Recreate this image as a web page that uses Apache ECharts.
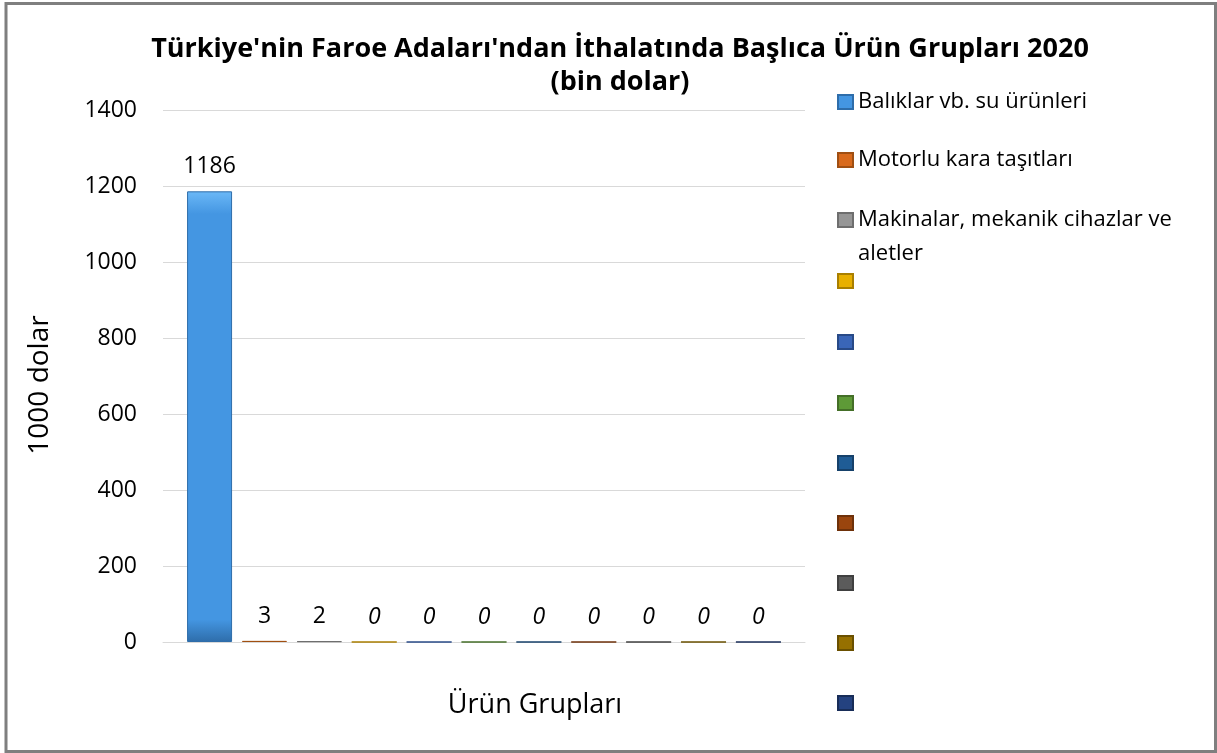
<!DOCTYPE html>
<html>
<head>
<meta charset="utf-8">
<script src="https://cdn.jsdelivr.net/npm/echarts@6/dist/echarts.min.js"></script>
<style>
html,body{margin:0;padding:0;background:#fff;}
#c{width:1217px;height:753px;}
</style>
</head>
<body>
<div id="c"></div>
<script>
const titleText = "Türkiye'nin Faroe Adaları'ndan İthalatında Başlıca Ürün Grupları 2020\n(bin dolar)";
const categories = [""];
const seriesNames = [
  "Balıklar vb. su ürünleri",
  "Motorlu kara taşıtları",
  "Makinalar, mekanik cihazlar ve aletler",
  "", "", "", "", "", "", "", ""
];
const seriesValues = [1186, 3, 2, 0, 0, 0, 0, 0, 0, 0, 0];
const yTicks = { min: 0, max: 1400, interval: 200 };
const yAxisName = "1000 dolar";
const xAxisName = "Ürün Grupları";

const colors = [
  ["#6BB8F7", "#4496E2", "#2E6DAA"],
  ["#F08A3E", "#D96A1C", "#A04F12"],
  ["#B5B5B5", "#969696", "#6E6E6E"],
  ["#FFD21F", "#E8B000", "#A97F00"],
  ["#5585DA", "#3A66B8", "#284A87"],
  ["#80C057", "#5E9A37", "#446F28"],
  ["#3774AD", "#1F5C95", "#16416A"],
  ["#B9561A", "#9A450E", "#6E310A"],
  ["#777777", "#5B5B5B", "#404040"],
  ["#B68B0D", "#967000", "#6A5000"],
  ["#34569A", "#244280", "#182D58"]
];
const FONT = "Open Sans";

function grad(c) {
  return new echarts.graphic.LinearGradient(0, 0, 0, 1, [
    { offset: 0, color: c[0] },
    { offset: 0.05, color: c[1] },
    { offset: 0.95, color: c[1] },
    { offset: 1, color: c[2] }
  ]);
}

const legendCenters = [102, 160, 220, 281, 342, 403, 463, 523, 583, 643, 703];
const names = seriesNames.map((n, i) => n === "" ? " ".repeat(i) : n);
const LH = 30;
const LH2 = 34;

const series = names.map((n, i) => ({
  name: n,
  type: "bar",
  data: [seriesValues[i]],
  barGap: "22%",
  barCategoryGap: "7.5%",
  itemStyle: { color: grad(colors[i]), borderColor: colors[i][2], borderWidth: 1 },
  label: {
    show: true,
    position: "top",
    distance: 13,
    fontFamily: FONT,
    fontSize: 23,
    color: "#000",
    fontStyle: seriesValues[i] === 0 ? "italic" : "normal"
  }
}));

const legends = names.map((n, i) => {
  const twoLine = i === 2;
  const shift = twoLine ? (3 * LH2 - 14) / 2 : (LH - 14) / 2;
  return {
    data: [n],
    orient: "vertical",
    left: 837,
    top: legendCenters[i] - 7 - shift,
    padding: 0,
    itemWidth: 15,
    itemHeight: 14,
    icon: "rect",
    formatter: twoLine ? (s => "\u00a0\n" + s.replace(" aletler", "\naletler")) : (s => s),
    textStyle: twoLine ? {
      fontFamily: FONT, fontSize: 22, color: "#000", lineHeight: LH2
    } : { fontFamily: FONT, fontSize: 22, color: "#000", lineHeight: LH }
  };
});

const chart = echarts.init(document.getElementById("c"), null, { renderer: "canvas" });
chart.setOption({
  animation: false,
  color: colors.map(c => c[1]),
  title: {
    text: titleText,
    left: 615,
    textAlign: "center",
    top: 28,
    textStyle: { fontFamily: FONT, fontSize: 27, fontWeight: "bold", color: "#000", lineHeight: 33 }
  },
  legend: legends,
  grid: { left: 163, right: 412, top: 110, bottom: 111, containLabel: false },
  xAxis: {
    type: "category",
    data: categories,
    name: xAxisName,
    nameLocation: "middle",
    nameGap: 50,
    nameTextStyle: { fontFamily: FONT, fontSize: 27, color: "#000", padding: [0, 0, 0, 102] },
    axisLine: { lineStyle: { color: "#D9D9D9", width: 1 } },
    axisTick: { show: false },
    axisLabel: { show: false }
  },
  yAxis: {
    type: "value",
    min: yTicks.min, max: yTicks.max, interval: yTicks.interval,
    name: yAxisName,
    nameLocation: "middle",
    nameGap: 109,
    nameTextStyle: { fontFamily: FONT, fontSize: 28, color: "#000", padding: [0, 18, 0, 0] },
    axisLine: { show: false },
    axisTick: { show: false },
    axisLabel: { fontFamily: FONT, fontSize: 23, color: "#000", margin: 26, formatter: v => String(v) },
    splitLine: { lineStyle: { color: "#D9D9D9", width: 1 } }
  },
  graphic: [{
    type: "rect",
    shape: { x: 6, y: 3.5, width: 1209.5, height: 748 },
    style: { fill: "none", stroke: "#7F7F7F", lineWidth: 3 },
    silent: true
  }],
  series: series
});
</script>
</body>
</html>
